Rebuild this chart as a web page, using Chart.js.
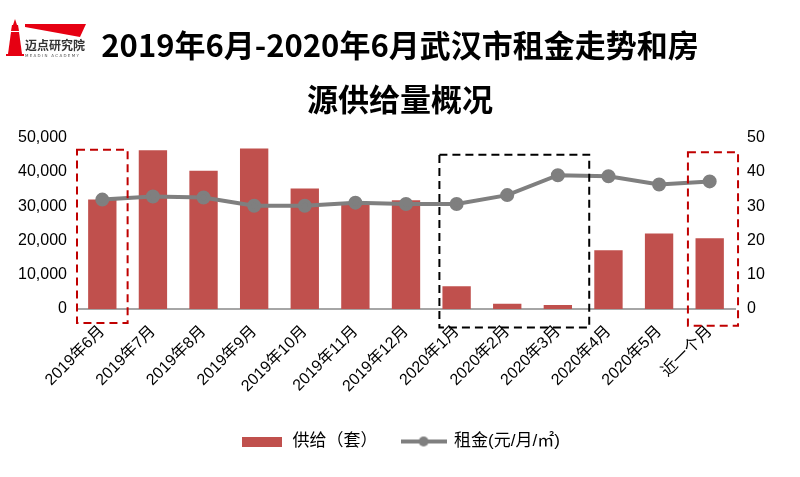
<!DOCTYPE html>
<html>
<head>
<meta charset="utf-8">
<script src="https://cdn.jsdelivr.net/npm/chart.js@4.4.1/dist/chart.umd.min.js"></script>
<style>
  html, body { margin: 0; padding: 0; background: #fff; }
  #wrap { position: relative; width: 800px; height: 477px; }
  #logo { position: absolute; left: 0; top: 0; }
</style>
</head>
<body>
<div id="wrap">
  <canvas id="rentChart" width="800" height="477"></canvas>
  <svg id="logo" width="110" height="62" viewBox="0 0 110 62">
    <polygon points="15,19 13,25 17,25" fill="#e60012"/>
    <polygon points="12,25 18,25 19,31 11,31" fill="#e60012"/>
    <polygon points="11,32 19,32 22,54 8,54" fill="#e60012"/>
    <rect x="6" y="54" width="18" height="2" fill="#e60012"/>
    <polygon points="25,24 86,24 80,37 25,27" fill="#e60012"/>
    <text x="25" y="50" font-family="Noto Sans CJK SC" font-weight="bold" font-size="12" fill="#333">迈点研究院</text>
    <text x="25" y="57" font-family="DejaVu Sans" font-size="4" letter-spacing="1.3" fill="#555">MEADIN ACADEMY</text>
  </svg>
</div>
<script>
const categories = ["2019年6月", "2019年7月", "2019年8月", "2019年9月", "2019年10月", "2019年11月",
  "2019年12月", "2020年1月", "2020年2月", "2020年3月", "2020年4月", "2020年5月", "近一个月"];
const supply = [31900, 46300, 40300, 46800, 35100, 31000, 31700, 6600, 1500, 1200, 17100, 22000, 20600];
const rent = [31.9, 32.8, 32.5, 30.1, 30.1, 31.0, 30.6, 30.6, 33.2, 39.0, 38.7, 36.3, 37.2];

// dashed highlight boxes, in category index / left axis units
const boxes = [
  { from: -0.5, to: 0.5, top: 46400, bottom: -4100, color: "#c00000" },
  { from: 6.66, to: 9.62, top: 45000, bottom: -5400, color: "#000000" },
  { from: 11.57, to: 12.56, top: 45700, bottom: -4900, color: "#c00000" },
];

const fontFamily = '"Liberation Sans", "Noto Sans CJK SC", sans-serif';

const makeIcon = (w, h, draw) => {
  const c = document.createElement("canvas");
  c.width = w;
  c.height = h;
  draw(c.getContext("2d"));
  return c;
};
const barIcon = makeIcon(40, 10, (g) => {
  g.fillStyle = "#c0504d";
  g.fillRect(0, 0, 40, 10);
});
const lineIcon = makeIcon(46, 12, (g) => {
  g.strokeStyle = "#7f7f7f";
  g.lineWidth = 4;
  g.beginPath();
  g.moveTo(0, 6);
  g.lineTo(46, 6);
  g.stroke();
  g.fillStyle = "#7f7f7f";
  g.beginPath();
  g.arc(23, 6, 5, 0, Math.PI * 2);
  g.fill();
});

const boxPlugin = {
  id: "dashBoxes",
  afterDraw(chart) {
    const ctx = chart.ctx;
    const x = chart.scales.x;
    const y = chart.scales.y;
    ctx.save();
    ctx.lineWidth = 2;
    ctx.setLineDash([8, 5]);
    boxes.forEach((b) => {
      const x1 = x.getPixelForValue(b.from);
      const x2 = x.getPixelForValue(b.to);
      const y1 = y.getPixelForValue(b.top);
      const y2 = y.getPixelForValue(b.bottom);
      ctx.strokeStyle = b.color;
      ctx.strokeRect(x1, y1, x2 - x1, y2 - y1);
    });
    ctx.restore();
  },
};

const ctx = document.getElementById("rentChart").getContext("2d");
const myChart = new Chart(ctx, {
  data: {
    labels: categories,
    datasets: [
      {
        type: "line",
        label: "租金(元/月/㎡)",
        data: rent,
        yAxisID: "y1",
        borderColor: "#7f7f7f",
        backgroundColor: "#7f7f7f",
        borderWidth: 4,
        pointRadius: 5,
        pointHoverRadius: 5,
        tension: 0,
        order: 0,
      },
      {
        type: "bar",
        label: "供给（套）",
        data: supply,
        yAxisID: "y",
        backgroundColor: "#c0504d",
        barPercentage: 0.56,
        categoryPercentage: 1,
        order: 1,
      },
    ],
  },
  options: {
    responsive: false,
    animation: false,
    layout: { padding: { left: 0, right: 0, top: 0, bottom: 17 } },
    plugins: {
      title: {
        display: true,
        text: ["2019年6月-2020年6月武汉市租金走势和房", "源供给量概况"],
        color: "#000",
        font: { family: '"Noto Sans CJK SC", sans-serif', size: 31, weight: "bold", lineHeight: 1.75 },
        padding: { top: 18, bottom: 11 },
      },
      legend: {
        position: "bottom",
        reverse: true,
        labels: {
          color: "#000",
          font: { family: fontFamily, size: 17 },
          usePointStyle: true,
          pointStyleWidth: 44,
          padding: 24,
          generateLabels: (chart) =>
            chart.data.datasets.map((ds, i) => ({
              text: ds.label,
              datasetIndex: i,
              pointStyle: ds.type === "bar" ? barIcon : lineIcon,
              fontColor: "#000",
              hidden: false,
              lineWidth: 0,
            })),
        },
      },
      tooltip: { enabled: false },
    },
    scales: {
      x: {
        grid: { display: false, drawTicks: false },
        border: { color: "#a6a6a6", width: 2 },
        ticks: {
          color: "#000",
          font: { family: fontFamily, size: 16 },
          minRotation: 45,
          maxRotation: 45,
          padding: 13,
        },
        afterFit: (scale) => { scale.height = 100; },
      },
      y: {
        position: "left",
        min: 0,
        max: 50000,
        grid: { display: false, drawTicks: false },
        border: { display: false },
        ticks: {
          stepSize: 10000,
          color: "#000",
          font: { family: fontFamily, size: 16 },
          padding: 10,
          callback: (v) => v.toLocaleString("en-US"),
        },
        afterFit: (scale) => { scale.width = 77; },
      },
      y1: {
        position: "right",
        min: 0,
        max: 50,
        grid: { display: false, drawTicks: false },
        border: { display: false },
        ticks: {
          stepSize: 10,
          color: "#000",
          font: { family: fontFamily, size: 16 },
          padding: 12,
        },
        afterFit: (scale) => { scale.width = 65; },
      },
    },
  },
  plugins: [boxPlugin],
});
</script>
</body>
</html>
